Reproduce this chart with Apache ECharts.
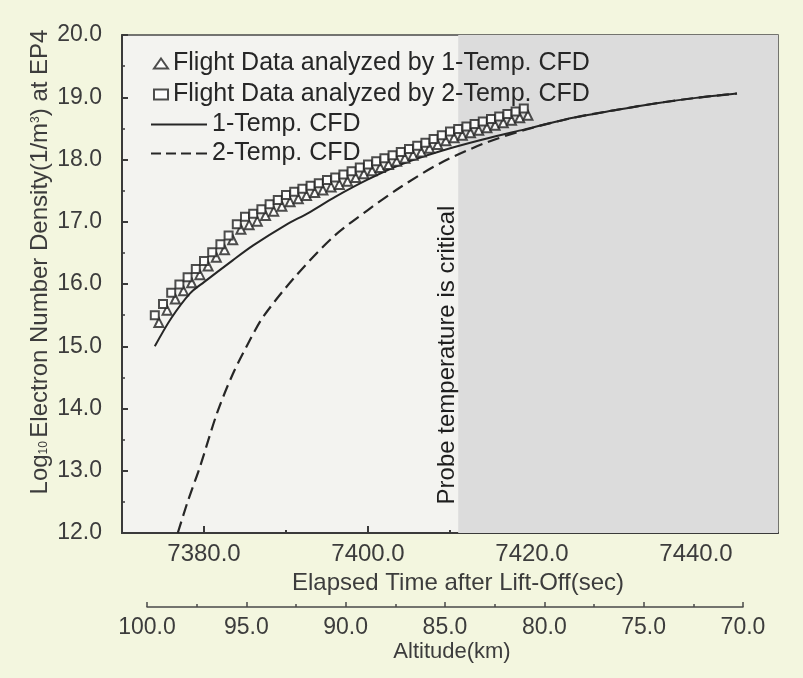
<!DOCTYPE html>
<html>
<head>
<meta charset="utf-8">
<script src="https://cdn.jsdelivr.net/npm/echarts@6/dist/echarts.min.js"></script>
<style>
  html, body { margin: 0; padding: 0; background: #f3f6df; }
  #chart { width: 803px; height: 678px; }
</style>
</head>
<body>
<div id="chart"></div>
<script>
// flight data, 1-Temp analysis (triangles)
const triTime = [7374.5, 7375.5, 7376.5, 7377.5, 7378.5, 7379.5, 7380.5, 7381.5, 7382.5, 7383.5,
  7384.5, 7385.5, 7386.5, 7387.5, 7388.5, 7389.5, 7390.5, 7391.5, 7392.5, 7393.5,
  7394.5, 7395.5, 7396.5, 7397.5, 7398.5, 7399.5, 7400.5, 7401.5, 7402.5, 7403.5,
  7404.5, 7405.5, 7406.5, 7407.5, 7408.5, 7409.5, 7410.5, 7411.5, 7412.5, 7413.5,
  7414.5, 7415.5, 7416.5, 7417.5, 7418.5, 7419.5];
const triDens = [15.38, 15.58, 15.76, 15.89, 16.02, 16.15, 16.29, 16.43, 16.55, 16.71,
  16.88, 16.95, 17.01, 17.10, 17.17, 17.25, 17.32, 17.37, 17.42, 17.47,
  17.51, 17.56, 17.60, 17.65, 17.71, 17.77, 17.82, 17.87, 17.92, 17.97,
  18.02, 18.07, 18.12, 18.18, 18.24, 18.30, 18.35, 18.39, 18.43, 18.47,
  18.51, 18.55, 18.59, 18.63, 18.67, 18.71];

// flight data, 2-Temp analysis (squares)
const sqTime = [7374, 7375, 7376, 7377, 7378, 7379, 7380, 7381, 7382, 7383,
  7384, 7385, 7386, 7387, 7388, 7389, 7390, 7391, 7392, 7393,
  7394, 7395, 7396, 7397, 7398, 7399, 7400, 7401, 7402, 7403,
  7404, 7405, 7406, 7407, 7408, 7409, 7410, 7411, 7412, 7413,
  7414, 7415, 7416, 7417, 7418, 7419];
const sqDens = [15.50, 15.68, 15.86, 15.99, 16.11, 16.24, 16.37, 16.51, 16.64, 16.78,
  16.96, 17.08, 17.13, 17.20, 17.28, 17.35, 17.43, 17.48, 17.53, 17.58,
  17.62, 17.67, 17.71, 17.76, 17.81, 17.87, 17.92, 17.97, 18.02, 18.07,
  18.12, 18.17, 18.22, 18.27, 18.33, 18.39, 18.45, 18.49, 18.53, 18.57,
  18.61, 18.65, 18.69, 18.73, 18.77, 18.82];

// CFD results
const cfd1Time = [7374.0, 7376.0, 7378.3, 7380.0, 7383.5, 7386.0, 7390.0, 7392.7, 7396.0, 7400.0,
  7404.0, 7409.0, 7414.0, 7419.0, 7425.0, 7430.0, 7435.0, 7440.0, 7445.0];
const cfd1Dens = [15.00, 15.45, 15.85, 16.03, 16.38, 16.62, 16.95, 17.14, 17.40, 17.68,
  17.92, 18.14, 18.32, 18.48, 18.67, 18.79, 18.90, 18.99, 19.06];
const cfd2Time = [7376.8, 7378.0, 7379.5, 7381.6, 7383.5, 7385.6, 7387.2, 7391.0, 7395.7, 7399.9,
  7403.9, 7408.8, 7414.0, 7419.0, 7425.0, 7430.0, 7435.0, 7440.0, 7445.0];
const cfd2Dens = [12.00, 12.50, 13.06, 13.93, 14.55, 15.10, 15.47, 16.10, 16.75, 17.18,
  17.55, 17.94, 18.25, 18.47, 18.67, 18.79, 18.90, 18.99, 19.06];

const timeLabels = [7380, 7400, 7420, 7440];
const timeMinor = [7390, 7410, 7430];
const criticalStart = 7411;

const names = [
  'Flight Data analyzed by 1-Temp. CFD',
  'Flight Data analyzed by 2-Temp. CFD',
  '1-Temp. CFD',
  '2-Temp. CFD'
];

const pairs = (xs, ys) => xs.map((x, i) => [x, ys[i]]);

const font = 'Liberation Sans, Arial, sans-serif';
const ink = '#262626';
const labelColor = '#3c3c3c';

// legend icons for the two CFD lines (plain stroke, no symbol)
const solidIcon = 'path://M0,0H56V2H0Z';
const dashIcon = 'path://M0,0H10V2H0Z M15,0H25V2H15Z M30,0H40V2H30Z M45,0H56V2H45Z';

const chart = echarts.init(document.getElementById('chart'));

chart.setOption({
  backgroundColor: '#f3f6df',
  animation: false,
  textStyle: { fontFamily: font },
  grid: [
    {
      left: 122, top: 35, right: 25, bottom: 145,
      show: true, backgroundColor: '#f3f3f0',
      borderColor: '#4a4a4a', borderWidth: 1.5
    },
    { left: 147, right: 60, top: 606, height: 1 }
  ],
  legend: [
    {
      data: [names[0], names[1]],
      orient: 'vertical', left: 148, top: 46,
      itemWidth: 14, itemHeight: 10, itemGap: 6,
      textStyle: { fontSize: 25, color: ink, fontFamily: font }
    },
    {
      data: [{ name: names[2], icon: solidIcon }, { name: names[3], icon: dashIcon }],
      orient: 'vertical', left: 146, top: 107,
      itemWidth: 56, itemHeight: 2, itemGap: 4,
      textStyle: { fontSize: 25, color: ink, fontFamily: font }
    }
  ],
  xAxis: [
    {
      type: 'value', gridIndex: 0, min: 7370, max: 7450, interval: 10,
      name: 'Elapsed Time after Lift-Off(sec)', nameLocation: 'middle', nameGap: 35,
      nameTextStyle: { fontSize: 24, color: labelColor, padding: [0, 0, 0, 16] },
      axisLine: { lineStyle: { color: '#3a3a3a', width: 2 } },
      axisTick: { inside: true, length: 7, customValues: timeLabels, lineStyle: { color: '#3a3a3a', width: 2 } },
      axisLabel: {
        customValues: timeLabels, margin: 9, fontSize: 24, color: labelColor,
        formatter: v => v.toFixed(1)
      },
      splitLine: { show: false }
    },
    {
      type: 'value', gridIndex: 0, min: 7370, max: 7450, interval: 10, position: 'bottom',
      axisLine: { show: false },
      axisTick: { inside: true, length: 3, customValues: timeMinor, lineStyle: { color: '#3a3a3a', width: 2 } },
      axisLabel: { show: false },
      splitLine: { show: false }
    },
    {
      type: 'value', gridIndex: 1, min: 70, max: 100, interval: 5, inverse: true,
      name: 'Altitude(km)', nameLocation: 'middle', nameGap: 34,
      nameTextStyle: { fontSize: 22, color: labelColor, padding: [0, 0, 0, 14] },
      axisLine: { lineStyle: { color: '#4a4a4a', width: 1.5 } },
      axisTick: { inside: true, length: 5, lineStyle: { color: '#4a4a4a', width: 1.5 } },
      minorTick: { show: true, splitNumber: 2, length: 3, lineStyle: { color: '#4a4a4a', width: 1.5 } },
      axisLabel: { margin: 9, fontSize: 23, color: labelColor, formatter: v => v.toFixed(1) },
      splitLine: { show: false }
    }
  ],
  yAxis: [
    {
      type: 'value', gridIndex: 0, min: 12, max: 20, interval: 1,
      axisLine: { lineStyle: { color: '#3a3a3a', width: 2 } },
      axisTick: { inside: true, length: 6, lineStyle: { color: '#3a3a3a', width: 2 } },
      minorTick: { show: true, splitNumber: 2, length: 3, lineStyle: { color: '#3a3a3a', width: 1.5 } },
      axisLabel: { margin: 20, fontSize: 23, color: labelColor, formatter: v => v.toFixed(1) },
      splitLine: { show: false }
    },
    { type: 'value', gridIndex: 1, min: 0, max: 1, show: false }
  ],
  graphic: [
    {
      type: 'text', x: 40, y: 262, rotation: Math.PI / 2,
      style: {
        text: '{b|Log}{sub|10} {b|Electron Number Density(1/m}{sup|3}{b|) at EP4}',
        align: 'center', verticalAlign: 'middle',
        rich: {
          b: { fontSize: 24, fontFamily: font, fill: labelColor },
          sub: { fontSize: 12, fontFamily: font, fill: labelColor, padding: [8, 0, 0, 0] },
          sup: { fontSize: 12, fontFamily: font, fill: labelColor, padding: [0, 0, 9, 0] }
        }
      }
    },
    {
      type: 'text', x: 447, y: 355, rotation: Math.PI / 2,
      style: {
        text: 'Probe temperature is critical',
        align: 'center', verticalAlign: 'middle',
        font: '24px ' + font, fill: '#1e1e1e'
      }
    }
  ],
  series: [
    {
      name: 'critical', type: 'line', xAxisIndex: 0, yAxisIndex: 0, data: [], z: 1,
      markArea: {
        silent: true,
        itemStyle: { color: '#dcdcdc' },
        data: [[{ xAxis: criticalStart }, { xAxis: 7450 }]]
      }
    },
    {
      name: names[2], type: 'line', xAxisIndex: 0, yAxisIndex: 0,
      data: pairs(cfd1Time, cfd1Dens), symbol: 'none', smooth: 0.3, z: 3,
      lineStyle: { color: ink, width: 2 }, itemStyle: { color: ink }
    },
    {
      name: names[3], type: 'line', xAxisIndex: 0, yAxisIndex: 0,
      data: pairs(cfd2Time, cfd2Dens), symbol: 'none', smooth: 0.3, z: 3,
      lineStyle: { color: ink, width: 2.2, type: [12, 6] }, itemStyle: { color: ink }
    },
    {
      name: names[0], type: 'scatter', xAxisIndex: 0, yAxisIndex: 0,
      data: pairs(triTime, triDens), symbol: 'emptyTriangle', symbolSize: 9, z: 4,
      itemStyle: { color: '#222', borderWidth: 1.4 }
    },
    {
      name: names[1], type: 'scatter', xAxisIndex: 0, yAxisIndex: 0,
      data: pairs(sqTime, sqDens), symbol: 'emptyRect', symbolSize: 8, z: 4,
      itemStyle: { color: '#222', borderWidth: 1.4 }
    },
    { name: 'altitude', type: 'line', xAxisIndex: 2, yAxisIndex: 1, data: [] }
  ]
});
</script>
</body>
</html>
